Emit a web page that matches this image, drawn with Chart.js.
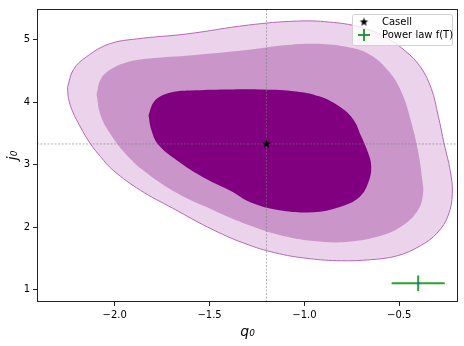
<!DOCTYPE html>
<html>
<head>
<meta charset="utf-8">
<script src="https://cdn.jsdelivr.net/npm/chart.js@4.4.0/dist/chart.umd.min.js"></script>
<style>
  html, body { margin: 0; padding: 0; background: #fff; }
</style>
</head>
<body>
<canvas id="myContourChart" width="464" height="346"></canvas>
<script>
// axis limits and ticks
var xLimits = [-2.41, -0.19];
var yLimits = [0.80, 5.49];
var xTicks = [-2.0, -1.5, -1.0, -0.5];
var yTicks = [1, 2, 3, 4, 5];

// best fit points
var casellPoint = { x: -1.2, y: 3.33 };
var powerLawPoint = { x: -0.4, y: 1.1 };
var powerLawErr = { x: 0.14, y: 0.125 };

// contour outlines (q0, j0)
var sigma3X = [-2.249, -2.218, -2.149, -2.028, -1.886, -1.622, -1.295, -1.043, -0.869, -0.706, -0.575, -0.469, -0.389, -0.331, -0.294, -0.263, -0.231, -0.220, -0.241, -0.300, -0.389, -0.510, -0.652, -0.810, -0.968, -1.132, -1.295, -1.480, -1.695, -1.864, -2.007, -2.075, -2.128, -2.181, -2.223, -2.244];
var sigma3Y = [4.235, 4.520, 4.726, 4.932, 5.011, 5.090, 5.233, 5.296, 5.281, 5.201, 5.043, 4.821, 4.567, 4.219, 3.775, 3.331, 2.903, 2.539, 2.190, 1.905, 1.699, 1.540, 1.477, 1.461, 1.492, 1.572, 1.715, 1.953, 2.302, 2.587, 2.904, 3.126, 3.332, 3.601, 3.855, 4.060];

var sigma2X = [-2.096, -2.075, -2.023, -1.944, -1.833, -1.622, -1.295, -1.132, -0.953, -0.780, -0.654, -0.554, -0.485, -0.438, -0.401, -0.380, -0.374, -0.401, -0.485, -0.601, -0.780, -0.953, -1.132, -1.295, -1.480, -1.670, -1.849, -1.948, -2.023, -2.075];
var sigma2Y = [4.124, 4.361, 4.520, 4.631, 4.694, 4.742, 4.837, 4.900, 4.932, 4.884, 4.758, 4.488, 4.139, 3.696, 3.220, 2.792, 2.539, 2.269, 2.016, 1.857, 1.762, 1.777, 1.873, 2.032, 2.269, 2.539, 2.904, 3.189, 3.490, 3.791];

var sigma1X = [-1.822, -1.796, -1.749, -1.680, -1.601, -1.412, -1.217, -1.043, -0.922, -0.817, -0.743, -0.701, -0.664, -0.648, -0.659, -0.711, -0.817, -0.953, -1.132, -1.285, -1.385, -1.532, -1.670, -1.770, -1.807];
var sigma1Y = [3.789, 3.995, 4.108, 4.171, 4.187, 4.203, 4.203, 4.171, 4.092, 3.933, 3.727, 3.458, 3.189, 2.983, 2.745, 2.476, 2.317, 2.238, 2.269, 2.396, 2.571, 2.793, 3.062, 3.316, 3.553];

var FONT = "'DejaVu Sans', sans-serif";

//closed outline from two arrays
function toPoints(xs, ys) {
  var pts = xs.map(function (x, i) { return { x: x, y: ys[i] }; });
  pts.push(pts[0]);
  return pts;
}

//filled star like matplotlib '*'
function makeStar(r) {
  var c = document.createElement("canvas");
  c.width = c.height = 2 * r + 2;
  var g = c.getContext("2d");
  g.beginPath();
  for (var i = 0; i < 10; i++) {
    var a = -Math.PI / 2 + i * Math.PI / 5;
    var rr = i % 2 === 0 ? r : r * 0.42;
    g.lineTo(r + 1 + rr * Math.cos(a), r + 1 + rr * Math.sin(a));
  }
  g.closePath();
  g.fillStyle = "#000";
  g.fill();
  return c;
}
var starImg = makeStar(4.5);

function minusFmt(v, digits) {
  var s = Math.abs(v).toFixed(digits);
  return v < 0 ? "\u2212" + s : s;
}

function lineSet(pts, color, width, dash) {
  return {
    data: pts, showLine: true, borderColor: color, borderWidth: width,
    borderDash: dash || [], pointRadius: 0, fill: false, tension: 0
  };
}

function contourSet(xs, ys, fillColor, edgeColor, edgeWidth) {
  return {
    data: toPoints(xs, ys), showLine: true, fill: "shape",
    backgroundColor: fillColor, borderColor: edgeColor, borderWidth: edgeWidth,
    pointRadius: 0, tension: 0.4
  };
}

//frame round the plot like matplotlib axes
var framePlugin = {
  id: "frame",
  afterDatasetsDraw: function (chart) {
    var a = chart.chartArea, ctx = chart.ctx;
    ctx.save();
    ctx.strokeStyle = "#222";
    ctx.lineWidth = 1;
    ctx.strokeRect(Math.round(a.left) + 0.5, Math.round(a.top) + 0.5,
      Math.round(a.right - a.left) - 1, Math.round(a.bottom - a.top) - 1);
    ctx.restore();
  }
};

//legend inside the axes, top right
var legendPlugin = {
  id: "innerLegend",
  afterDraw: function (chart) {
    var a = chart.chartArea, ctx = chart.ctx;
    var w = 100, h = 31;
    var x0 = a.right - 6 - w, y0 = a.top + 5;
    ctx.save();
    ctx.fillStyle = "rgba(255,255,255,0.8)";
    ctx.strokeStyle = "#d0d0d0";
    ctx.lineWidth = 1;
    ctx.beginPath();
    ctx.roundRect(x0 + 0.5, y0 + 0.5, w, h, 2);
    ctx.fill();
    ctx.stroke();
    ctx.font = "10px " + FONT;
    ctx.fillStyle = "#000";
    ctx.textBaseline = "middle";
    var mx = x0 + 12, tx = x0 + 30;
    ctx.drawImage(starImg, mx - starImg.width / 2, y0 + 8 - starImg.height / 2);
    ctx.fillText("Casell", tx, y0 + 8);
    ctx.strokeStyle = "#2ca02c";
    ctx.lineWidth = 2;
    ctx.beginPath();
    ctx.moveTo(mx - 6, y0 + 21); ctx.lineTo(mx + 6, y0 + 21);
    ctx.moveTo(mx, y0 + 15); ctx.lineTo(mx, y0 + 27);
    ctx.stroke();
    ctx.fillStyle = "#1f77b4";
    ctx.fillRect(mx - 1, y0 + 20, 2, 2);
    ctx.fillStyle = "#000";
    ctx.fillText("Power law f(T)", tx, y0 + 21);
    ctx.restore();
  }
};

function createContourChart() {
  var ctx = document.getElementById("myContourChart");
  var datasets = [
    //power law point with error bars
    { data: [powerLawPoint], pointRadius: 1.5, pointBackgroundColor: "#1f77b4", pointBorderWidth: 0, showLine: false },
    lineSet([{ x: powerLawPoint.x - powerLawErr.x, y: powerLawPoint.y }, { x: powerLawPoint.x + powerLawErr.x, y: powerLawPoint.y }], "#2ca02c", 2),
    lineSet([{ x: powerLawPoint.x, y: powerLawPoint.y - powerLawErr.y }, { x: powerLawPoint.x, y: powerLawPoint.y + powerLawErr.y }], "#2ca02c", 2),
    //casell best fit
    { data: [casellPoint], pointStyle: starImg, showLine: false },
    //guide lines
    lineSet([{ x: casellPoint.x, y: yLimits[0] }, { x: casellPoint.x, y: yLimits[1] }], "rgba(120,120,120,0.7)", 0.8, [2, 1.5]),
    lineSet([{ x: xLimits[0], y: casellPoint.y }, { x: xLimits[1], y: casellPoint.y }], "rgba(120,120,120,0.7)", 0.8, [2, 1.5]),
    //confidence regions
    contourSet(sigma1X, sigma1Y, "#800080", "#800080", 0),
    contourSet(sigma2X, sigma2Y, "#ca96ca", "#ca96ca", 0),
    contourSet(sigma3X, sigma3Y, "#ebd4eb", "#b866b8", 1)
  ];

  var myChart = new Chart(ctx, {
    type: "scatter",
    data: { datasets: datasets },
    plugins: [framePlugin, legendPlugin],
    options: {
      responsive: false,
      animation: false,
      devicePixelRatio: 1,
      layout: { padding: { left: 0, right: 6, top: 6, bottom: 0 } },
      plugins: { legend: { display: false }, tooltip: { enabled: false } },
      scales: {
        x: {
          type: "linear", min: xLimits[0], max: xLimits[1],
          afterBuildTicks: function (scale) { scale.ticks = xTicks.map(function (v) { return { value: v }; }); },
          afterFit: function (scale) { scale.height = 44; },
          grid: { drawOnChartArea: false, drawTicks: true, tickLength: 4, color: "#222" },
          border: { display: false },
          ticks: {
            color: "#000", padding: 3, maxRotation: 0, font: { family: FONT, size: 10 },
            callback: function (v) { return minusFmt(v, 1); }
          },
          title: { display: true, text: "q\u2080", color: "#000", padding: { top: 0, bottom: 5 }, font: { family: FONT, size: 14, style: "italic" } }
        },
        y: {
          type: "linear", min: yLimits[0], max: yLimits[1],
          afterBuildTicks: function (scale) { scale.ticks = yTicks.map(function (v) { return { value: v }; }); },
          afterFit: function (scale) { scale.width = 37; },
          grid: { drawOnChartArea: false, drawTicks: true, tickLength: 4, color: "#222" },
          border: { display: false },
          ticks: {
            color: "#000", padding: 3, font: { family: FONT, size: 10 },
            callback: function (v) { return minusFmt(v, 0); }
          },
          title: { display: true, text: "j\u2080", color: "#000", padding: { top: 5, bottom: 0 }, font: { family: FONT, size: 14, style: "italic" } }
        }
      }
    }
  });
}

createContourChart();
</script>
</body>
</html>
